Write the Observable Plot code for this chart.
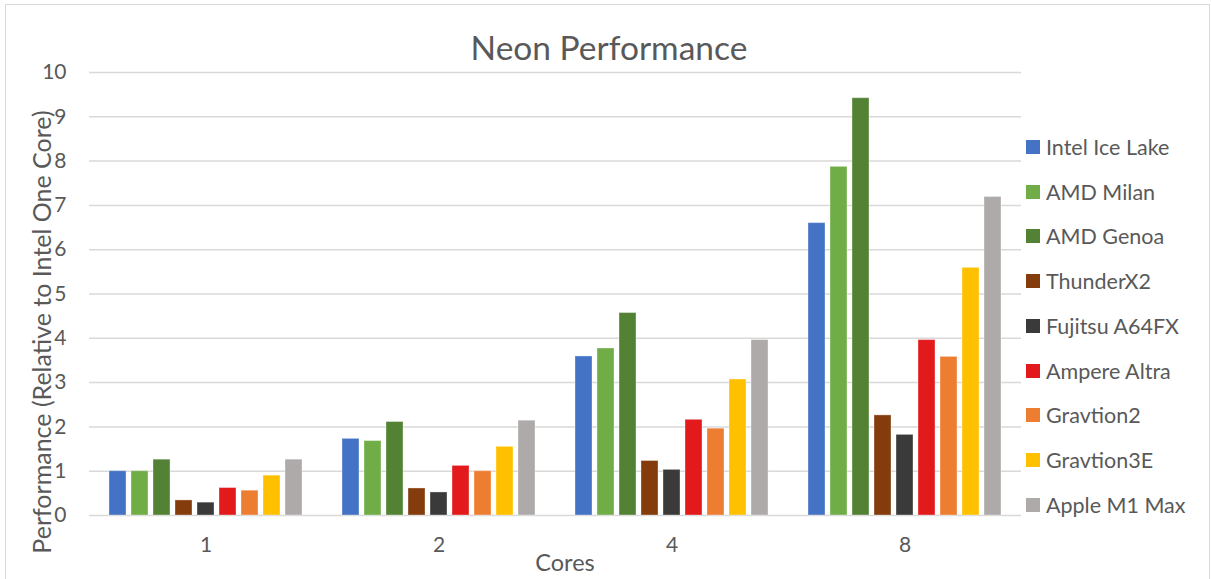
<!DOCTYPE html>
<html>
<head>
<meta charset="utf-8">
<script src="https://cdn.jsdelivr.net/npm/d3@7"></script>
<script src="https://cdn.jsdelivr.net/npm/@observablehq/plot@0.6"></script>
<style>
  html, body { margin: 0; padding: 0; background: #fff; }
  #wrap { position: relative; width: 1211px; height: 579px; overflow: hidden; font-family: Lato, "Open Sans", sans-serif; color: #595959; }
  #border { position: absolute; left: 5px; top: 4px; width: 1205px; height: 580px; border: 1.5px solid #d9d9d9; box-sizing: border-box; pointer-events: none; }
  .abs { position: absolute; white-space: nowrap; }
  #title { left: 0; width: 1218px; top: 27px; text-align: center; font-size: 33.5px; line-height: 40px; }
  #ylabel { left: 41px; top: 332px; font-size: 25px; transform: translate(-50%, -50%) rotate(-90deg); }
  #xlabel { left: 565px; top: 562px; font-size: 23.5px; transform: translate(-50%, -50%); }
  .leg { position: absolute; left: 1026px; font-size: 21.5px; display: flex; align-items: center; transform: translateY(-50%); }
  .sw { width: 14px; height: 14px; margin-right: 6px; }
  #chart { position: absolute; left: 0; top: 0; }
</style>
</head>
<body>
<div id="wrap">
  <div id="chart"></div>
  <div id="border"></div>
  <div id="title" class="abs">Neon Performance</div>
  <div id="ylabel" class="abs">Performance (Relative to Intel One Core)</div>
  <div id="xlabel" class="abs">Cores</div>
</div>
<script>
const cores = ["1", "2", "4", "8"];
const seriesNames = ["Intel Ice Lake", "AMD Milan", "AMD Genoa", "ThunderX2", "Fujitsu A64FX", "Ampere Altra", "Gravtion2", "Gravtion3E", "Apple M1 Max"];
const seriesColors = ["#4472C4", "#70AD47", "#548235", "#843C0C", "#3A3A3A", "#E31A1C", "#ED7D31", "#FFC000", "#AEAAAA"];
const yTicks = [0, 1, 2, 3, 4, 5, 6, 7, 8, 9, 10];

const intelIceLake = [1.0, 1.73, 3.59, 6.6];
const amdMilan     = [1.0, 1.68, 3.77, 7.87];
const amdGenoa     = [1.26, 2.11, 4.57, 9.42];
const thunderX2    = [0.34, 0.61, 1.23, 2.26];
const fujitsuA64FX = [0.29, 0.52, 1.03, 1.82];
const ampereAltra  = [0.62, 1.12, 2.16, 3.96];
const gravtion2    = [0.56, 1.0, 1.96, 3.58];
const gravtion3E   = [0.90, 1.55, 3.07, 5.59];
const appleM1Max   = [1.26, 2.14, 3.96, 7.19];

const seriesValues = [intelIceLake, amdMilan, amdGenoa, thunderX2, fujitsuA64FX, ampereAltra, gravtion2, gravtion3E, appleM1Max];

const data = [];
cores.forEach((c, i) => {
  seriesNames.forEach((s, j) => data.push({core: c, series: s, value: seriesValues[j][i]}));
});

const chart = Plot.plot({
  width: 1211,
  height: 579,
  marginLeft: 87,
  marginRight: 189,
  marginTop: 72,
  marginBottom: 64,
  style: {fontFamily: "Lato, 'Open Sans', sans-serif", fontSize: "21px", color: "#595959", background: "transparent", overflow: "visible"},
  fx: {domain: cores, padding: 0, label: null, tickSize: 0, tickPadding: 22},
  x: {domain: seriesNames, paddingInner: 0.215, paddingOuter: 0.8, axis: null},
  y: {domain: [0, 10], ticks: yTicks, tickSize: 0, tickPadding: 23, label: null},
  color: {domain: seriesNames, range: seriesColors},
  marks: [
    Plot.ruleY(yTicks, {stroke: "#d9d9d9", strokeWidth: 1.5}),
    Plot.barY(data, {fx: "core", x: "series", y: "value", fill: "series", stroke: "white", strokeOpacity: 0.35, strokeWidth: 1})
  ]
});
document.getElementById("chart").appendChild(chart);

const wrap = document.getElementById("wrap");
seriesNames.forEach((s, j) => {
  const d = document.createElement("div");
  d.className = "leg";
  d.style.top = (147 + j * 44.7) + "px";
  d.innerHTML = `<div class="sw" style="background:${seriesColors[j]}"></div><span>${s}</span>`;
  wrap.appendChild(d);
});
</script>
</body>
</html>
